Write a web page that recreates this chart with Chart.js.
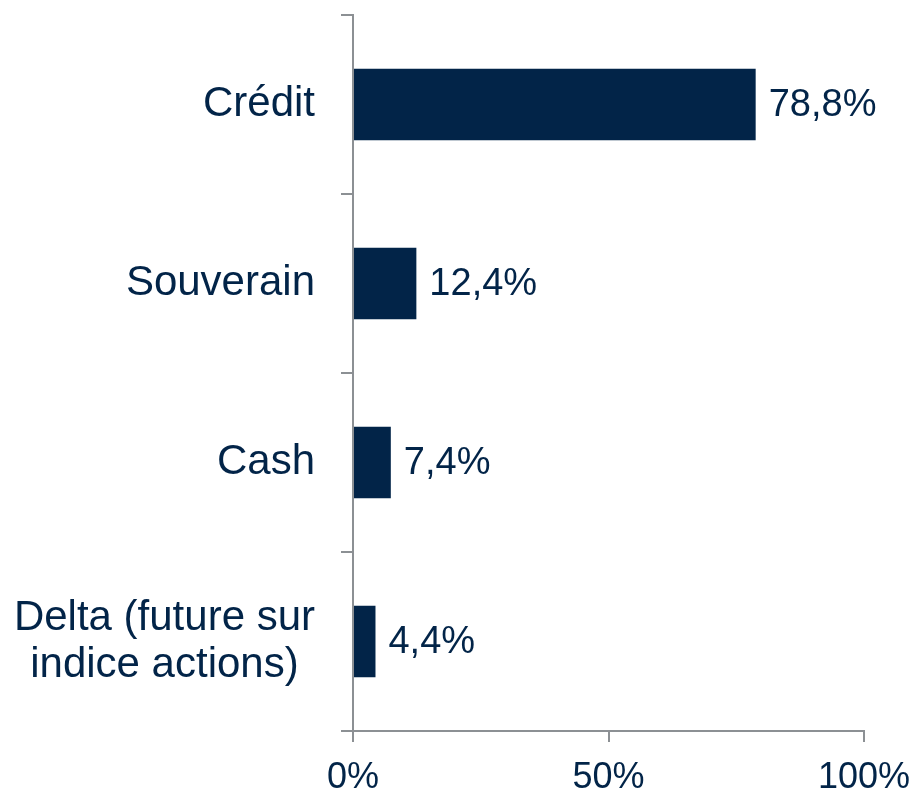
<!DOCTYPE html>
<html>
<head>
<meta charset="utf-8">
<script src="https://cdn.jsdelivr.net/npm/chart.js@4.4.1/dist/chart.umd.min.js"></script>
<style>
  html, body { margin: 0; padding: 0; background: #ffffff; }
  #wrap { width: 916px; height: 791px; position: relative; }
</style>
</head>
<body>
<div id="wrap"><canvas id="chart" width="916" height="791"></canvas></div>
<script>
// Allocation categories (multi-line labels are arrays of lines)
const categories = ['Crédit', 'Souverain', 'Cash', ['Delta (future sur', 'indice actions)']];
// Share of each category, in percent
const shares = [78.8, 12.4, 7.4, 4.4];
// Value-axis ticks, in percent
const xTicks = [0, 50, 100];

const NAVY = '#022448';
const AXIS = '#8c9094';
const FONT = "'Liberation Sans', Arial, sans-serif";

const pct = v => v.toFixed(1).replace('.', ',') + '%';

// Category labels: the block of lines is right-aligned, lines centered within it
const categoryLabels = {
  id: 'categoryLabels',
  afterDraw(chart) {
    const y = chart.scales.y;
    const ctx = chart.ctx;
    ctx.save();
    ctx.font = '42px ' + FONT;
    ctx.fillStyle = NAVY;
    ctx.textAlign = 'center';
    ctx.textBaseline = 'middle';
    const lineH = 47;
    const right = y.right - 38;
    chart.data.labels.forEach((lab, i) => {
      const lines = Array.isArray(lab) ? lab : [lab];
      const w = Math.max(...lines.map(l => ctx.measureText(l).width));
      const cx = right - w / 2;
      const cy = y.getPixelForValue(i);
      const y0 = cy - (lines.length - 1) * lineH / 2;
      lines.forEach((l, k) => ctx.fillText(l, cx, y0 + k * lineH));
    });
    ctx.restore();
  }
};

// Value labels at the end of each bar
const valueLabels = {
  id: 'valueLabels',
  afterDatasetsDraw(chart) {
    const ctx = chart.ctx;
    const meta = chart.getDatasetMeta(0);
    ctx.save();
    ctx.font = '38px ' + FONT;
    ctx.fillStyle = NAVY;
    ctx.textAlign = 'left';
    ctx.textBaseline = 'middle';
    meta.data.forEach((bar, i) => {
      ctx.fillText(pct(chart.data.datasets[0].data[i]), bar.x + 13, bar.y + 1);
    });
    ctx.restore();
  }
};

new Chart(document.getElementById('chart'), {
  type: 'bar',
  data: {
    labels: categories,
    datasets: [{
      data: shares,
      backgroundColor: NAVY,
      borderWidth: 0,
      barPercentage: 0.4,
      categoryPercentage: 1.0
    }]
  },
  options: {
    indexAxis: 'y',
    responsive: false,
    animation: false,
    events: [],
    layout: { padding: { left: 0, right: 52, top: 15, bottom: 0 } },
    plugins: { legend: { display: false }, tooltip: { enabled: false } },
    scales: {
      x: {
        type: 'linear',
        min: 0,
        max: 100,
        afterBuildTicks(scale) { scale.ticks = xTicks.map(v => ({ value: v })); },
        afterFit(scale) {
          scale.height = 60;
          scale.paddingLeft = 0;
          scale.paddingRight = 0;
        },
        border: { display: true, color: AXIS, width: 2 },
        grid: { drawOnChartArea: false, drawTicks: true, tickLength: 11, color: AXIS, lineWidth: 2 },
        ticks: {
          callback: v => v + '%',
          color: NAVY,
          font: { family: FONT, size: 36 },
          padding: 14,
          maxRotation: 0
        }
      },
      y: {
        afterFit(scale) { scale.width = 353; },
        border: { display: true, color: AXIS, width: 2 },
        grid: { drawOnChartArea: false, drawTicks: true, tickLength: 12, color: AXIS, lineWidth: 2, offset: true },
        ticks: { display: false }
      }
    }
  },
  plugins: [categoryLabels, valueLabels]
});
</script>
</body>
</html>
